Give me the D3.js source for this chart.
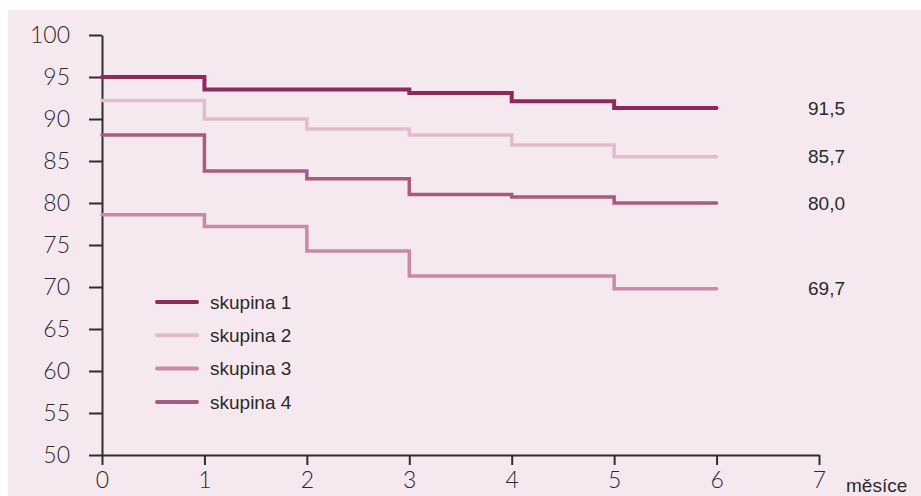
<!DOCTYPE html>
<html>
<head>
<meta charset="utf-8">
<script src="https://cdn.jsdelivr.net/npm/d3@7"></script>
<style>
  body { margin: 0; background: #fff; }
  text { font-family: "Liberation Sans", Arial, sans-serif; fill: #2a2a2a; }
  .tick text { font-family: Lato, "Liberation Sans", sans-serif; }
</style>
</head>
<body>
<div id="chart"></div>
<script>
// data (values at months 0..5, last value held to month 6)
const months = [0, 1, 2, 3, 4, 5, 6];
const groupNames = ["skupina 1", "skupina 2", "skupina 3", "skupina 4"];
const skupina1 = [95.0, 93.5, 93.5, 93.1, 92.1, 91.3, 91.3];
const skupina2 = [92.2, 90.0, 88.8, 88.1, 86.9, 85.5, 85.5];
const skupina3 = [78.6, 77.2, 74.3, 71.3, 71.3, 69.8, 69.8];
const skupina4 = [88.1, 83.8, 82.9, 81.0, 80.7, 80.0, 80.0];
const endLabels = ["91,5", "85,7", "69,7", "80,0"];
const yTicks = [50, 55, 60, 65, 70, 75, 80, 85, 90, 95, 100];
const xTicks = [0, 1, 2, 3, 4, 5, 6, 7];
const colors = ["#8b2a5b", "#e0bccd", "#c98aa8", "#a75b80"];

const width = 921, height = 496;
const svg = d3.select("#chart").append("svg")
    .attr("width", width)
    .attr("height", height);

// pink panel
svg.append("rect")
    .attr("x", 8).attr("y", 10)
    .attr("width", width - 8).attr("height", height - 10)
    .attr("fill", "#f5e9ef");

const x = d3.scaleLinear().domain([0, 7]).range([102, 819]);
const y = d3.scaleLinear().domain([50, 100]).range([455, 35]);

const yAxis = d3.axisLeft(y).tickValues(yTicks).tickSize(13).tickSizeOuter(0).tickPadding(19).tickFormat(d3.format("d"));
const gy = svg.append("g").attr("transform", "translate(" + x(0) + ",0)").call(yAxis);
gy.selectAll("text").style("font-size", "23px").style("font-weight", "300");

const xAxis = d3.axisBottom(x).tickValues(xTicks).tickSize(10).tickSizeOuter(0).tickPadding(7).tickFormat(d3.format("d"));
const gx = svg.append("g").attr("transform", "translate(0," + y(50) + ")").call(xAxis);
gx.selectAll("text").style("font-size", "23px").style("font-weight", "300");

svg.selectAll(".domain, .tick line").attr("stroke", "#2e2e2e").attr("stroke-width", 2);

svg.append("text")
    .attr("x", 846).attr("y", 492)
    .style("font-size", "19px")
    .text("měsíce");

const series = [skupina1, skupina2, skupina3, skupina4];
const line = d3.line()
    .x((d, i) => x(months[i]))
    .y(d => y(d))
    .curve(d3.curveStepAfter);

// draw lighter lines first, dark one on top
[1, 2, 3, 0].forEach(k => {
    svg.append("path")
        .datum(series[k])
        .attr("fill", "none")
        .attr("stroke", colors[k])
        .attr("stroke-width", k == 0 ? 4 : 3.5)
        .attr("stroke-linecap", "round")
        .attr("d", line);
});

// end values
series.forEach((s, k) => {
    svg.append("text")
        .attr("x", 808)
        .attr("y", y(s[s.length - 1]))
        .attr("dy", "0.35em")
        .style("font-size", "19px")
        .text(endLabels[k]);
});

// legend
const legend = svg.append("g").attr("transform", "translate(157,302)");
groupNames.forEach((name, k) => {
    legend.append("line")
        .attr("x1", 0).attr("x2", 40)
        .attr("y1", k * 33.3).attr("y2", k * 33.3)
        .attr("stroke", colors[k])
        .attr("stroke-width", 4)
        .attr("stroke-linecap", "round");
    legend.append("text")
        .attr("x", 53).attr("y", k * 33.3)
        .attr("dy", "0.35em")
        .style("font-size", "19px")
        .text(name);
});
</script>
</body>
</html>
